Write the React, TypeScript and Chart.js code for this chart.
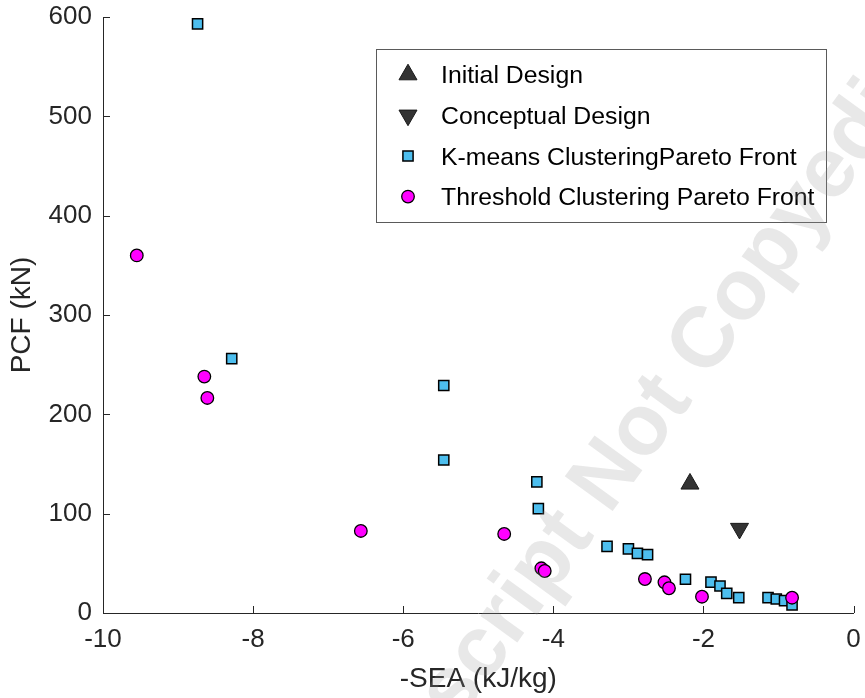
import React, { useEffect, useRef } from 'react';
import { Chart, registerables } from 'chart.js';

Chart.register(...registerables);

// ---- data ----
const seriesLabels = [
  'Initial Design',
  'Conceptual Design',
  'K-means ClusteringPareto Front',
  'Threshold Clustering Pareto Front',
];
const initialX = [-2.18];
const initialY = [130];
const conceptualX = [-1.52];
const conceptualY = [85];
const kmeansX = [-8.74, -8.285, -5.46, -5.46, -4.22, -4.2, -3.285, -3.0, -2.88, -2.745, -2.24, -1.9, -1.78, -1.69, -1.53, -1.14, -1.03, -0.92, -0.82];
const kmeansY = [593, 256, 229, 154, 132, 105, 67, 64.5, 60, 58.7, 34, 31, 27.2, 19.8, 15.4, 15.4, 14.1, 12.4, 8.1];
const thresholdX = [-9.55, -8.65, -8.61, -6.565, -4.655, -4.16, -4.115, -2.78, -2.52, -2.46, -2.02, -0.82];
const thresholdY = [360, 238, 216.5, 82.6, 79.6, 45, 42.3, 34.2, 30.9, 24.9, 16.4, 15.4];
const xTicks = [-10, -8, -6, -4, -2, 0];
const yTicks = [0, 100, 200, 300, 400, 500, 600];
const xTitle = '-SEA (kJ/kg)';
const yTitle = 'PCF (kN)';
const watermark = 'Manuscript Not Copyedited';

const zip = (xs: number[], ys: number[]) => xs.map((x, i) => ({ x, y: ys[i] }));

const FONT = '"Liberation Sans", Arial, Helvetica, sans-serif';
const AXIS_COLOR = '#262626';

function drawMarker(ctx: CanvasRenderingContext2D, style: string, x: number, y: number, r: number, rot: number, fill: string, stroke: string, lw: number) {
  ctx.save();
  ctx.beginPath();
  if (style === 'circle') {
    ctx.arc(x, y, r, 0, Math.PI * 2);
  } else if (style === 'rect') {
    const s = Math.SQRT1_2 * r;
    ctx.rect(x - s, y - s, 2 * s, 2 * s);
  } else if (style === 'triangle') {
    let a = (rot * Math.PI) / 180;
    ctx.moveTo(x + Math.sin(a) * r, y - Math.cos(a) * r);
    a += (2 * Math.PI) / 3;
    ctx.lineTo(x + Math.sin(a) * r, y - Math.cos(a) * r);
    a += (2 * Math.PI) / 3;
    ctx.lineTo(x + Math.sin(a) * r, y - Math.cos(a) * r);
    ctx.closePath();
  }
  ctx.fillStyle = fill;
  ctx.fill();
  ctx.lineWidth = lw;
  ctx.strokeStyle = stroke;
  ctx.stroke();
  ctx.restore();
}

const inwardTicks = {
  id: 'inwardTicks',
  afterDatasetsDraw(chart: any) {
    const { ctx, scales } = chart;
    const xs = scales.x;
    const ys = scales.y;
    ctx.save();
    ctx.strokeStyle = AXIS_COLOR;
    ctx.lineWidth = 1;
    ctx.beginPath();
    xTicks.forEach((v) => {
      const px = Math.round(xs.getPixelForValue(v)) + 0.5;
      ctx.moveTo(px, ys.bottom);
      ctx.lineTo(px, ys.bottom - 7);
    });
    yTicks.forEach((v) => {
      const py = Math.round(ys.getPixelForValue(v)) + 0.5;
      ctx.moveTo(xs.left, py);
      ctx.lineTo(xs.left + 7, py);
    });
    ctx.stroke();
    ctx.restore();
  },
};

const boxLegend = {
  id: 'boxLegend',
  afterDraw(chart: any) {
    const { ctx } = chart;
    const left = 376, top = 49, right = 826, bottom = 222;
    ctx.save();
    ctx.fillStyle = '#ffffff';
    ctx.fillRect(left, top, right - left, bottom - top);
    ctx.strokeStyle = '#5a5a5a';
    ctx.lineWidth = 1;
    ctx.strokeRect(left + 0.5, top + 0.5, right - left, bottom - top);
    const rows = [74.6, 115.3, 156, 196.6];
    chart.data.datasets.forEach((ds: any, i: number) => {
      const cy = rows[i];
      drawMarker(ctx, ds.pointStyle, 408, cy, ds.pointRadius, ds.rotation || 0, ds.backgroundColor, ds.borderColor, ds.borderWidth);
      ctx.fillStyle = '#000000';
      ctx.font = `24.8px ${FONT}`;
      ctx.textAlign = 'left';
      ctx.textBaseline = 'alphabetic';
      ctx.fillText(ds.label, 441, cy + 8.8);
    });
    ctx.restore();
  },
};

const watermarkPlugin = {
  id: 'watermark',
  afterDraw(chart: any) {
    const { ctx } = chart;
    ctx.save();
    ctx.translate(635, 440);
    ctx.rotate((-54 * Math.PI) / 180);
    ctx.font = `bold 86px ${FONT}`;
    ctx.fillStyle = 'rgba(150,150,150,0.22)';
    ctx.textAlign = 'center';
    ctx.textBaseline = 'middle';
    ctx.fillText(watermark, 0, 0);
    ctx.restore();
  },
};

export default function App() {
  const ref = useRef<HTMLCanvasElement | null>(null);

  useEffect(() => {
    if (!ref.current) return;
    const chart = new Chart(ref.current, {
      type: 'scatter',
      data: {
        datasets: [
          {
            label: seriesLabels[0],
            data: zip(initialX, initialY),
            pointStyle: 'triangle',
            rotation: 0,
            pointRadius: 10.4,
            backgroundColor: '#333333',
            borderColor: '#1a1a1a',
            borderWidth: 1,
            order: 3,
          } as any,
          {
            label: seriesLabels[1],
            data: zip(conceptualX, conceptualY),
            pointStyle: 'triangle',
            rotation: 180,
            pointRadius: 10.4,
            backgroundColor: '#333333',
            borderColor: '#1a1a1a',
            borderWidth: 1,
            order: 2,
          } as any,
          {
            label: seriesLabels[2],
            data: zip(kmeansX, kmeansY),
            pointStyle: 'rect',
            pointRadius: 7.2,
            backgroundColor: '#4DBEEE',
            borderColor: '#000000',
            borderWidth: 1.5,
            order: 1,
          } as any,
          {
            label: seriesLabels[3],
            data: zip(thresholdX, thresholdY),
            pointStyle: 'circle',
            pointRadius: 6.3,
            backgroundColor: '#FF00FF',
            borderColor: '#000000',
            borderWidth: 1.3,
            order: 0,
          } as any,
        ],
      },
      options: {
        responsive: false,
        animation: false,
        devicePixelRatio: 1,
        events: [],
        layout: { padding: { left: 0, top: 17, right: 8, bottom: 0 } },
        plugins: {
          legend: { display: false },
          tooltip: { enabled: false },
        },
        scales: {
          x: {
            type: 'linear',
            min: -10,
            max: 0,
            afterBuildTicks: (s: any) => {
              s.ticks = xTicks.map((v) => ({ value: v }));
            },
            afterFit: (s: any) => {
              s.height = 85;
              s.paddingLeft = 0;
              s.paddingRight = 0;
            },
            grid: { display: false, drawTicks: false },
            border: { display: true, color: AXIS_COLOR, width: 1 },
            ticks: {
              padding: 11,
              color: AXIS_COLOR,
              font: { family: FONT, size: 26 },
              maxRotation: 0,
              autoSkip: false,
            },
            title: {
              display: true,
              text: xTitle,
              color: AXIS_COLOR,
              font: { family: FONT, size: 28 },
              padding: { top: 0, bottom: 2 },
            },
          },
          y: {
            type: 'linear',
            min: 0,
            max: 600,
            afterBuildTicks: (s: any) => {
              s.ticks = yTicks.map((v) => ({ value: v }));
            },
            afterFit: (s: any) => {
              s.width = 103;
              s.paddingTop = 0;
              s.paddingBottom = 0;
            },
            grid: { display: false, drawTicks: false },
            border: { display: true, color: AXIS_COLOR, width: 1 },
            ticks: {
              padding: 11,
              color: AXIS_COLOR,
              font: { family: FONT, size: 26 },
              autoSkip: false,
            },
            title: {
              display: true,
              text: yTitle,
              color: AXIS_COLOR,
              font: { family: FONT, size: 28 },
              padding: { top: 5, bottom: 0 },
            },
          },
        },
      } as any,
      plugins: [inwardTicks, boxLegend, watermarkPlugin],
    });
    return () => chart.destroy();
  }, []);

  return (
    <div style={{ position: 'fixed', left: 0, top: 0, width: 865, height: 698, background: '#ffffff' }}>
      <canvas ref={ref} width={865} height={698} style={{ display: 'block', width: 865, height: 698 }} />
    </div>
  );
}
